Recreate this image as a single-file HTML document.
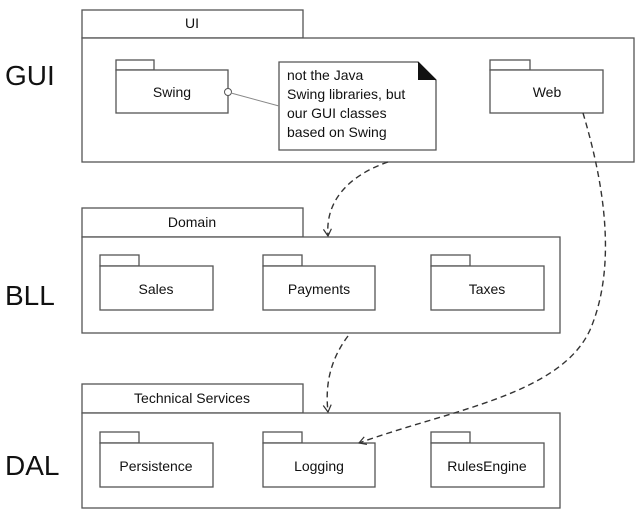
<!DOCTYPE html>
<html><head><meta charset="utf-8"><style>
html,body{margin:0;padding:0;background:#fff;}
svg text{font-family:"Liberation Sans",Arial,sans-serif;fill:#111;}
</style></head><body>
<svg width="644" height="526" viewBox="0 0 644 526" xmlns="http://www.w3.org/2000/svg">
<defs>
<marker id="ah" markerWidth="10" markerHeight="10" refX="8" refY="5" orient="auto" markerUnits="userSpaceOnUse">
<path d="M1,1 L8,5 L1,9" fill="none" stroke="#333" stroke-width="1.2"/>
</marker>
</defs>
<g fill="#fff" stroke="#555" stroke-width="1.3">
<!-- UI -->
<rect x="82" y="10" width="221" height="28"/>
<rect x="82" y="38" width="552" height="124"/>
<rect x="116" y="60" width="38" height="10"/>
<rect x="116" y="70" width="112" height="43"/>
<rect x="490" y="60" width="40" height="10"/>
<rect x="490" y="70" width="113" height="43"/>
<path d="M279,62 L418,62 L436,80 L436,150 L279,150 Z"/>
<!-- Domain -->
<rect x="82" y="208" width="221" height="29"/>
<rect x="82" y="237" width="478" height="96"/>
<rect x="100" y="255" width="39" height="11"/>
<rect x="100" y="266" width="113" height="44"/>
<rect x="263" y="255" width="39" height="11"/>
<rect x="263" y="266" width="112" height="44"/>
<rect x="431" y="255" width="39" height="11"/>
<rect x="431" y="266" width="113" height="44"/>
<!-- Technical -->
<rect x="82" y="384" width="221" height="29"/>
<rect x="82" y="413" width="478" height="95"/>
<rect x="100" y="432" width="39" height="11"/>
<rect x="100" y="443" width="113" height="44"/>
<rect x="263" y="432" width="39" height="11"/>
<rect x="263" y="443" width="112" height="44"/>
<rect x="431" y="432" width="39" height="11"/>
<rect x="431" y="443" width="113" height="44"/>
</g>
<path d="M418,62 L436,80 L418,80 Z" fill="#111"/>
<path d="M418,62 L436,80" stroke="#111" fill="none"/>
<circle cx="228" cy="92" r="3.5" fill="#fff" stroke="#555"/>
<line x1="231" y1="93" x2="279" y2="106" stroke="#888" stroke-width="1"/>
<g fill="none" stroke="#333" stroke-width="1.4" stroke-dasharray="6,4">
<path d="M388,162 C350,175 325,200 328,236" marker-end="url(#ah)"/>
<path d="M348,336 C330,360 325,385 328,412" marker-end="url(#ah)"/>
<path d="M583,113 C600,170 620,260 590,330 C560,395 450,410 359,443" marker-end="url(#ah)"/>
</g>
<g font-size="14" text-anchor="middle">
<text x="192" y="28">UI</text>
<text x="172" y="97">Swing</text>
<text x="547" y="97">Web</text>
<text x="192" y="227">Domain</text>
<text x="156" y="294">Sales</text>
<text x="319" y="294">Payments</text>
<text x="487" y="294">Taxes</text>
<text x="192" y="403">Technical Services</text>
<text x="156" y="471">Persistence</text>
<text x="319" y="471">Logging</text>
<text x="487" y="471">RulesEngine</text>
</g>
<g font-size="14">
<text x="287" y="80">not the Java</text>
<text x="287" y="99">Swing libraries, but</text>
<text x="287" y="118">our GUI classes</text>
<text x="287" y="137">based on Swing</text>
</g>
<g font-size="28">
<text x="5" y="85">GUI</text>
<text x="5" y="305">BLL</text>
<text x="5" y="475">DAL</text>
</g>
</svg>
</body></html>
